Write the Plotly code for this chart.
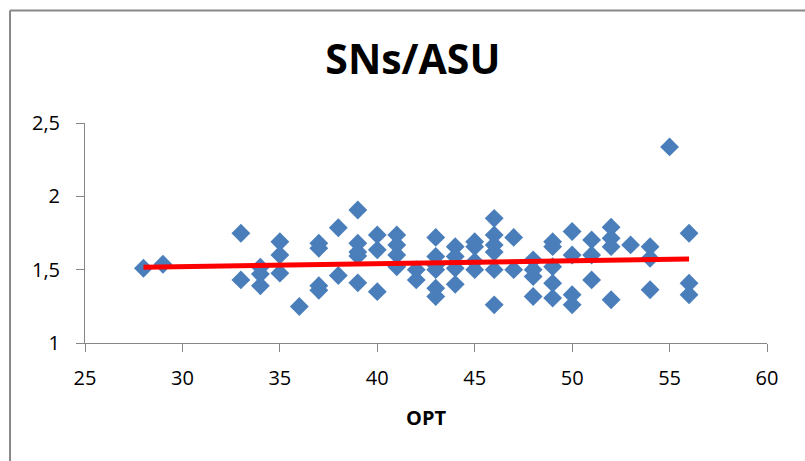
import plotly.graph_objects as go

opt = [28, 29,
       33, 33,
       34, 34, 34,
       35, 35, 35,
       36,
       37, 37, 37, 37,
       38, 38,
       39, 39, 39, 39, 39,
       40, 40, 40,
       41, 41, 41, 41,
       42, 42,
       43, 43, 43, 43, 43, 43,
       44, 44, 44, 44,
       45, 45, 45, 45,
       46, 46, 46, 46, 46, 46,
       47, 47,
       48, 48, 48, 48,
       49, 49, 49, 49, 49,
       50, 50, 50, 50,
       51, 51, 51,
       52, 52, 52, 52,
       53,
       54, 54, 54,
       55,
       56, 56, 56]
sns_asu = [1.51, 1.537,
           1.748, 1.43,
           1.517, 1.47, 1.39,
           1.69, 1.60, 1.476,
           1.249,
           1.68, 1.646, 1.39, 1.36,
           1.786, 1.46,
           1.907, 1.68, 1.62, 1.594, 1.41,
           1.737, 1.635, 1.35,
           1.737, 1.669, 1.60, 1.52,
           1.50, 1.43,
           1.72, 1.59, 1.53, 1.50, 1.374, 1.317,
           1.657, 1.59, 1.51, 1.40,
           1.69, 1.657, 1.555, 1.50,
           1.85, 1.737, 1.669, 1.62, 1.50, 1.26,
           1.72, 1.50,
           1.567, 1.50, 1.453, 1.317,
           1.69, 1.657, 1.52, 1.408, 1.306,
           1.76, 1.60, 1.329, 1.26,
           1.703, 1.60, 1.43,
           1.79, 1.714, 1.657, 1.295,
           1.669,
           1.657, 1.578, 1.363,
           2.337,
           1.748, 1.408, 1.329]

# linear trend line (start / end)
trend_x = [28, 56]
trend_y = [1.517, 1.573]

chart_title = "SNs/ASU"
x_title = "OPT"
x_ticks = [25, 30, 35, 40, 45, 50, 55, 60]
y_ticks = [1, 1.5, 2, 2.5]

fig = go.Figure()
fig.add_trace(go.Scatter(
    x=opt, y=sns_asu, mode="markers",
    marker=dict(symbol="diamond", size=14.5, color="#4A7EBB", line=dict(width=0)),
    showlegend=False, hoverinfo="x+y"))
fig.add_trace(go.Scatter(
    x=trend_x, y=trend_y, mode="lines",
    line=dict(color="#FF0000", width=5),
    showlegend=False, hoverinfo="skip"))

W, H = 805, 461
L, R, T, B = 85, 37.7, 122.7, 117.7
pw = W - L - R
ph = H - T - B
bx = (10 - L) / pw
by = (H - B - 10) / ph

fig.update_layout(
    width=W, height=H,
    margin=dict(l=L, r=R, t=T, b=B, autoexpand=False),
    paper_bgcolor="white", plot_bgcolor="white",
    separators=",.",
    font=dict(family="Open Sans", color="#000000"),
    title=dict(text="<b>" + chart_title + "</b>", x=(413 - L) / pw, xref="paper",
               xanchor="center", y=1 - 60 / H, yanchor="middle",
               font=dict(size=41, family="Open Sans", color="#000000")),
    xaxis=dict(range=[25, 60], tickvals=x_ticks, ticks="outside", ticklen=8,
               tickcolor="#868686", tickwidth=1, showline=True, linecolor="#868686",
               linewidth=1, showgrid=False, zeroline=False,
               ticklabelstandoff=9,
               tickfont=dict(size=20, family="Open Sans"),
               title=dict(text="<b>" + x_title + "</b>", font=dict(size=20), standoff=20)),
    yaxis=dict(range=[1, 2.5], tickvals=y_ticks, ticks="outside", ticklen=8,
               tickcolor="#868686", tickwidth=1, showline=True, linecolor="#868686",
               linewidth=1, showgrid=False, zeroline=False,
               ticklabelstandoff=12,
               tickfont=dict(size=20, family="Open Sans")),
    shapes=[
        dict(type="line", xref="paper", yref="paper", x0=bx, x1=1.3, y0=by, y1=by,
             line=dict(color="#888888", width=2)),
        dict(type="line", xref="paper", yref="paper", x0=bx, x1=bx, y0=by, y1=-1,
             line=dict(color="#888888", width=2)),
    ],
)

fig.write_html("out.html")
